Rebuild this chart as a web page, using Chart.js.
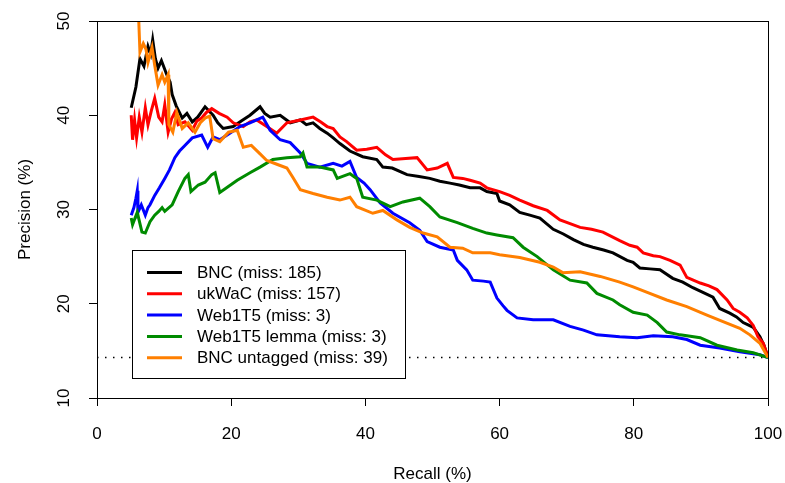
<!DOCTYPE html>
<html>
<head>
<meta charset="utf-8">
<script src="https://cdn.jsdelivr.net/npm/chart.js@4"></script>
<style>
  body { margin: 0; background: #fff; }
</style>
</head>
<body>
<canvas id="pr" width="785" height="483"></canvas>
<script>
// recall (%) , precision (%) pairs
var bnc = [[5.1,40.8],[5.8,43.0],[6.4,46.0],[7.0,45.2],[7.6,47.3],[8.0,46.5],[8.3,48.0],[8.7,46.0],[9.1,45.0],[9.6,45.8],
  [10.4,44.3],[10.9,43.5],[11.2,42.2],[11.8,41.0],[12.7,39.7],[13.4,40.2],[14.2,39.3],[15.0,39.8],[16.1,40.9],[17.3,40.0],
  [18.0,39.2],[18.8,38.6],[20.3,38.8],[21.5,39.4],[22.8,40.0],[24.3,40.9],[25.0,40.2],[25.8,39.8],[27.3,40.0],[28.8,39.2],
  [30.3,39.5],[31.2,39.0],[32.2,39.2],[33.2,38.6],[34.3,38.1],[35.2,37.6],[36.2,37.0],[37.7,36.2],[39.6,35.6],[41.7,35.3],
  [42.6,34.5],[44.0,34.4],[46.2,33.7],[48.0,33.5],[49.6,33.3],[51.1,33.0],[52.6,32.8],[54.0,32.6],[55.6,32.3],[57.1,32.3],
  [58.1,31.9],[59.6,31.7],[60.0,30.9],[61.5,30.5],[63.0,29.7],[64.5,29.4],[66.0,29.1],[68.0,27.9],[69.5,27.4],[71.0,26.8],
  [72.5,26.3],[73.9,26.0],[75.5,25.7],[76.9,25.4],[79.0,24.6],[79.9,24.4],[80.9,23.8],[82.4,23.7],[83.9,23.6],[85.8,22.7],
  [87.3,22.3],[88.8,21.7],[90.3,21.2],[91.8,20.7],[92.8,19.5],[94.3,19.0],[95.3,18.6],[96.3,18.0],[97.8,17.5],[98.8,16.5],
  [99.4,15.6],[100,14.3]];

var ukwac = [[5.1,40.0],[5.3,37.4],[5.6,39.5],[5.9,37.6],[6.3,39.8],[6.7,38.2],[7.2,40.8],[7.6,39.0],[8.1,40.5],[8.6,41.8],
  [9.2,39.8],[9.7,39.3],[10.1,41.1],[10.6,38.2],[11.1,39.6],[11.6,40.3],[12.1,39.0],[13.1,39.3],[14.2,38.4],[14.9,39.4],
  [15.6,39.7],[16.3,40.3],[17.1,40.7],[18.2,40.2],[19.4,39.8],[20.3,39.2],[21.8,38.8],[22.8,39.3],[23.8,39.5],[25.3,38.8],
  [26.8,38.1],[28.3,39.2],[30.3,39.5],[32.2,39.8],[33.3,39.3],[34.3,38.8],[35.2,38.6],[36.2,37.7],[37.2,37.2],[38.7,36.3],
  [40.2,36.4],[41.7,36.6],[43.0,35.8],[44.1,35.3],[46.0,35.4],[47.7,35.5],[49.2,34.2],[50.7,34.4],[52.2,34.9],[53.1,33.4],
  [54.5,33.3],[55.6,33.1],[57.1,32.8],[58.1,32.3],[60.0,31.9],[61.5,31.5],[63.0,31.0],[65.0,30.4],[67.1,29.9],[69.0,28.9],
  [70.5,28.5],[72.0,28.1],[73.7,27.9],[75.4,27.6],[77.9,26.7],[79.4,26.2],[80.5,26.0],[81.4,25.4],[82.9,25.1],[83.9,25.0],
  [85.4,24.6],[86.9,24.1],[87.9,22.8],[89.9,22.2],[91.2,21.9],[92.4,21.5],[93.9,20.4],[94.8,19.5],[95.8,19.1],[96.9,18.5],
  [97.8,17.7],[98.5,16.5],[99.3,15.8],[100,14.3]];

var web1t5 = [[5.1,29.4],[5.5,30.2],[5.8,31.2],[6.0,32.0],[6.1,29.7],[6.6,30.5],[7.2,29.4],[7.6,30.2],[7.9,30.5],[8.6,31.5],
  [9.3,32.3],[10.1,33.3],[10.8,34.2],[11.6,35.5],[12.3,36.2],[13.1,36.8],[14.2,37.6],[15.6,37.9],[16.5,36.6],[17.3,37.7],
  [18.3,37.4],[19.8,38.1],[21.3,38.8],[22.8,39.2],[23.8,39.5],[24.7,39.8],[25.8,38.4],[27.3,37.4],[28.8,37.1],[30.3,36.0],
  [31.3,34.9],[33.2,34.5],[35.2,34.9],[36.5,34.6],[37.7,35.1],[38.7,33.4],[39.8,32.8],[40.7,32.1],[42.2,30.7],[44.1,29.6],
  [46.6,28.6],[48.1,27.8],[49.2,26.6],[51.1,26.0],[53.1,25.7],[53.7,24.6],[55.1,23.6],[56.0,22.5],[57.6,22.4],[58.6,22.3],
  [59.6,20.6],[60.5,19.8],[61.1,19.3],[62.6,18.5],[65.0,18.3],[68.0,18.3],[70.5,17.6],[72.5,17.2],[74.5,16.7],[77.9,16.5],
  [80.5,16.4],[82.9,16.6],[85.8,16.5],[87.9,16.2],[89.9,15.6],[92.8,15.3],[95.8,14.9],[98.8,14.6],[100,14.3]];

var web1t5Lemma = [[5.1,29.1],[5.3,28.4],[6.0,29.7],[6.7,27.6],[7.2,27.5],[7.9,28.7],[8.6,29.4],[9.2,29.8],[9.7,30.2],[10.1,29.8],
  [11.2,30.5],[12.1,31.9],[13.1,33.3],[13.6,33.7],[14.0,31.9],[15.1,32.6],[16.1,32.9],[17.1,33.7],[17.6,33.9],[18.3,31.8],
  [19.1,32.2],[20.9,33.1],[22.8,33.9],[24.3,34.5],[26.2,35.3],[28.3,35.5],[30.3,35.6],[30.7,36.0],[31.3,34.5],[33.2,34.5],
  [35.2,34.2],[35.8,33.3],[37.7,33.8],[38.7,33.3],[39.6,31.3],[41.7,31.0],[43.7,30.3],[45.6,30.8],[48.1,31.2],[49.6,30.3],
  [51.1,29.2],[53.7,28.6],[56.0,28.0],[58.1,27.5],[59.6,27.3],[62.0,27.0],[63.5,26.0],[65.6,25.0],[68.0,23.6],[70.5,22.5],
  [73.0,22.2],[74.5,21.1],[76.9,20.4],[77.9,19.9],[79.9,19.1],[82.0,18.8],[83.5,18.0],[84.9,17.0],[86.9,16.7],[89.9,16.4],
  [92.4,15.6],[95.4,15.1],[97.8,14.8],[100,14.3]];

var bncUntagged = [[5.1,52.0],[6.2,50.5],[6.4,46.7],[6.9,47.6],[7.3,47.0],[7.6,45.6],[8.2,47.2],[8.6,45.3],[9.1,43.2],[9.7,44.3],
  [10.1,43.5],[10.6,44.3],[10.7,39.0],[11.3,38.2],[11.9,40.3],[12.7,38.6],[13.6,39.2],[14.6,38.2],[15.4,39.2],[16.1,39.7],
  [16.8,39.9],[17.3,37.5],[18.3,37.2],[19.6,38.2],[20.9,38.4],[21.8,36.6],[23.0,36.8],[24.3,35.9],[25.3,35.2],[26.8,34.8],
  [28.3,34.4],[29.2,33.4],[30.3,32.1],[32.2,31.7],[34.3,31.3],[36.2,31.0],[37.7,31.3],[38.7,30.3],[41.1,29.6],[42.6,29.9],
  [44.7,28.9],[46.6,28.1],[48.6,27.5],[50.7,27.1],[52.6,26.0],[54.5,25.9],[56.0,25.4],[58.6,25.4],[60.0,25.2],[63.0,24.9],
  [66.0,24.4],[68.0,23.9],[69.4,23.3],[72.0,23.4],[75.0,22.9],[77.9,22.3],[79.9,21.8],[82.0,21.2],[84.9,20.4],[87.9,19.7],
  [90.9,18.8],[93.3,18.1],[95.8,17.4],[97.3,16.7],[98.8,15.8],[100,14.3]];

var baseline = 14.3;   // dotted line: precision of random guessing
var seriesNames = ["BNC (miss: 185)", "ukWaC (miss: 157)", "Web1T5 (miss: 3)", "Web1T5 lemma (miss: 3)", "BNC untagged (miss: 39)"];
var seriesColors = ["#000000", "#FF0000", "#0000FF", "#008B00", "#FF7F00"];
var xTicks = [0, 20, 40, 60, 80, 100];
var yTicks = [10, 20, 30, 40, 50];

function pts(a) {
  return a.map(function (p) { return {x: p[0], y: p[1]}; });
}

var curves = [bnc, ukwac, web1t5, web1t5Lemma, bncUntagged];
var datasets = curves.map(function (c, i) {
  return {
    label: seriesNames[i],
    data: pts(c),
    borderColor: seriesColors[i],
    borderWidth: 3,
    pointRadius: 0,
    tension: 0,
    fill: false,
    order: 5 - i
  };
});
datasets.push({
  label: "baseline",
  data: [{x: 0, y: baseline}, {x: 100, y: baseline}],
  borderColor: "#000",
  borderWidth: 1.5,
  borderDash: [1.5, 6.5],
  pointRadius: 0,
  order: 10
});

var FONT = "'Liberation Sans', Arial, sans-serif";

// R style box + legend with white background
var boxLegend = {
  id: "boxLegend",
  afterDraw: function (chart) {
    var ctx = chart.ctx, a = chart.chartArea;
    ctx.save();
    ctx.strokeStyle = "#000";
    ctx.lineWidth = 1;
    ctx.strokeRect(a.left + 0.5, a.top + 0.5, a.right - a.left, a.bottom - a.top);

    var lx = 132.5, ly = 250.5, lw = 273, lh = 128;
    ctx.fillStyle = "#fff";
    ctx.fillRect(lx, ly, lw, lh);
    ctx.strokeRect(lx, ly, lw, lh);
    ctx.font = "17px " + FONT;
    ctx.textBaseline = "middle";
    for (var i = 0; i < seriesNames.length; i++) {
      var y = 272.5 + i * 21.3;
      ctx.strokeStyle = seriesColors[i];
      ctx.lineWidth = 3;
      ctx.beginPath();
      ctx.moveTo(147, y);
      ctx.lineTo(182, y);
      ctx.stroke();
      ctx.fillStyle = "#000";
      ctx.fillText(seriesNames[i], 197, y + 1);
    }
    ctx.restore();
  }
};

new Chart(document.getElementById("pr"), {
  type: "line",
  data: { datasets: datasets },
  options: {
    responsive: false,
    animation: false,
    layout: { padding: { top: 21, right: 17, left: 0, bottom: 0 } },
    plugins: { legend: { display: false }, tooltip: { enabled: false } },
    scales: {
      x: {
        type: "linear",
        min: 0, max: 100,
        afterBuildTicks: function (s) { s.ticks = xTicks.map(function (v) { return {value: v}; }); },
        afterFit: function (s) { s.height = 85; s.paddingLeft = 0; s.paddingRight = 0; },
        grid: { drawOnChartArea: false, drawTicks: true, tickLength: 8, color: "#000" },
        border: { color: "#000" },
        ticks: { color: "#000", padding: 18, maxRotation: 0, font: { family: FONT, size: 17 } },
        title: { display: true, text: "Recall (%)", color: "#000", padding: { top: 0, bottom: -2 }, font: { family: FONT, size: 17 } }
      },
      y: {
        type: "linear",
        min: 10, max: 50,
        afterBuildTicks: function (s) { s.ticks = yTicks.map(function (v) { return {value: v}; }); },
        afterFit: function (s) { s.width = 97; s.paddingTop = 0; s.paddingBottom = 0; },
        grid: { drawOnChartArea: false, drawTicks: true, tickLength: 8, color: "#000" },
        border: { color: "#000" },
        ticks: { color: "#000", padding: 15, minRotation: 90, maxRotation: 90, crossAlign: "center", font: { family: FONT, size: 17 } },
        title: { display: true, text: "Precision (%)", color: "#000", padding: { top: 15, bottom: 0 }, font: { family: FONT, size: 17 } }
      }
    }
  },
  plugins: [boxLegend]
});
</script>
</body>
</html>
